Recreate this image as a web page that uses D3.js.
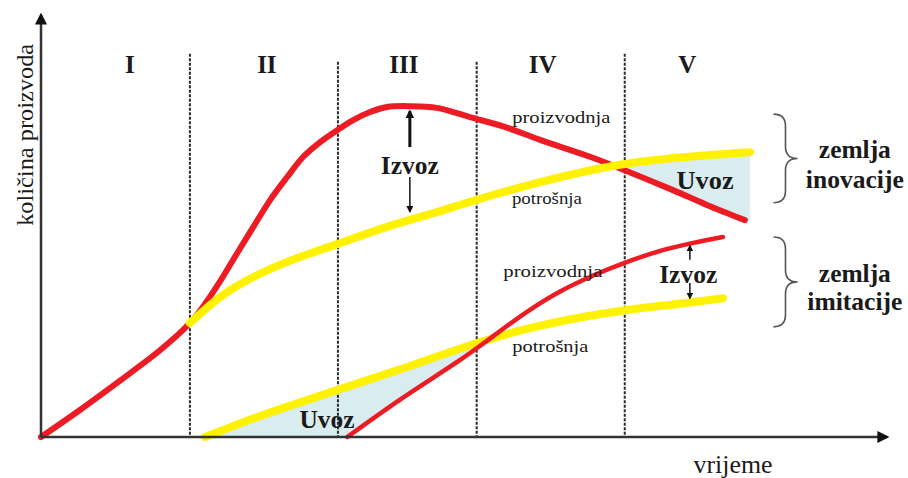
<!DOCTYPE html>
<html>
<head>
<meta charset="utf-8">
<script src="https://cdn.jsdelivr.net/npm/d3@7"></script>
<style>
  body { margin: 0; background: #fff; }
  svg { display: block; }
  text { font-family: "Liberation Serif", "Times New Roman", serif; fill: #1a1a1a; }
</style>
</head>
<body>
<script>
const width = 908
const height = 478

// x = time (0..100), y = quantity (0..100)
const phaseBounds = [17.6, 35.1, 51.5, 69.0]
const phaseTops = [90.8, 88.9, 88.9, 90.8]
const phaseNames = ['I', 'II', 'III', 'IV', 'V']
const phaseLabelT = [10.5, 26.7, 42.9, 59.3, 76.4]

// zemlja inovacije
const prodInov = [[0, 0], [4.6, 6.4], [9.3, 13.3], [14.1, 20.6], [17.6, 27.0], [19.3, 31.3],
  [21.2, 37.0], [23.2, 43.6], [25.1, 49.8], [27.1, 56.2], [29.1, 61.6], [31.0, 66.4],
  [33.0, 69.9], [35.0, 72.7], [36.9, 75.1], [38.9, 77.0], [40.9, 78.2], [43.6, 78.4],
  [46.8, 78.0], [50.7, 75.8], [54.8, 73.5], [59.0, 70.4], [64.9, 66.4], [68.4, 63.7],
  [74.7, 58.5], [78.7, 55.0], [83.2, 51.4]]
const consInov = [[17.6, 27.0], [21.2, 33.2], [25.1, 37.9], [29.1, 41.5], [35.0, 45.7],
  [40.9, 49.8], [46.8, 53.3], [51.5, 56.2], [59.0, 60.4], [68.4, 64.5], [74.7, 66.1], [83.8, 67.5]]

// zemlja imitacije
const prodImit = [[36.2, 0], [42.4, 8.8], [49.5, 18.2], [52.5, 22.5], [57.4, 29.6], [61.3, 34.4],
  [65.2, 38.2], [69.3, 41.5], [73.2, 44.1], [77.1, 46.0], [80.6, 47.4]]
const consImit = [[19.4, 0], [25.5, 4.7], [35.0, 11.1], [43.3, 16.6], [51.9, 22.5], [57.4, 25.6],
  [63.4, 28.2], [69.3, 30.1], [75.2, 31.5], [80.6, 32.9]]

const x = d3.scaleLinear().domain([0, 100]).range([41, 887])
const y = d3.scaleLinear().domain([0, 100]).range([437, 15])

const red = '#ed1c24'
const yellow = '#fff200'
const fillBlue = '#d9ecef'

const svg = d3.select('body').append('svg')
  .attr('width', width)
  .attr('height', height)

const defs = svg.append('defs')
function arrowMarker(id, size) {
  defs.append('marker')
    .attr('id', id)
    .attr('viewBox', '0 0 10 10')
    .attr('refX', 8).attr('refY', 5)
    .attr('markerUnits', 'userSpaceOnUse')
    .attr('markerWidth', size).attr('markerHeight', size)
    .attr('orient', 'auto')
    .append('path')
    .attr('d', 'M0,0 L10,5 L0,10 Z')
    .attr('fill', '#111')
}
arrowMarker('axisHead', 12)
arrowMarker('head', 9)
arrowMarker('headSmall', 7)

const line = d3.line()
  .x(d => x(d[0]))
  .y(d => y(d[1]))
  .curve(d3.curveCatmullRom.alpha(0.5))

// sample a drawn path so fills follow the same curve
function sampler(node) {
  const len = node.getTotalLength(), pts = []
  for (let l = 0; l <= len; l += 1) {
    const p = node.getPointAtLength(l)
    pts.push([p.x, p.y])
  }
  pts.sort((a, b) => a[0] - b[0])
  const bis = d3.bisector(d => d[0]).left
  return function(px) {
    let i = bis(pts, px)
    if (i <= 0) return pts[0][1]
    if (i >= pts.length) return pts[pts.length - 1][1]
    const a = pts[i - 1], b = pts[i]
    const k = b[0] === a[0] ? 0 : (px - a[0]) / (b[0] - a[0])
    return a[1] + k * (b[1] - a[1])
  }
}

const fillLayer = svg.append('g').attr('id', 'fills')
const gridLayer = svg.append('g').attr('id', 'phases')
const lineLayer = svg.append('g').attr('id', 'lines')

// phase dividers
gridLayer.selectAll('line')
  .data(phaseBounds)
  .enter().append('line')
  .attr('x1', d => x(d)).attr('x2', d => x(d))
  .attr('y1', (d, i) => y(phaseTops[i]))
  .attr('y2', y(0))
  .attr('stroke', '#2a2a2a')
  .attr('stroke-width', 2)
  .attr('stroke-dasharray', '3,1.5')

gridLayer.selectAll('text')
  .data(phaseNames)
  .enter().append('text')
  .attr('x', (d, i) => x(phaseLabelT[i]))
  .attr('y', y(86.2))
  .attr('text-anchor', 'middle')
  .attr('font-size', 25)
  .attr('font-weight', 'bold')
  .text(d => d)

// curves
const pProdInov = lineLayer.append('path').datum(prodInov)
  .attr('d', line).attr('fill', 'none')
  .attr('stroke', red).attr('stroke-width', 6).attr('stroke-linecap', 'round')
const pConsInov = lineLayer.append('path').datum(consInov)
  .attr('d', line).attr('fill', 'none')
  .attr('stroke', yellow).attr('stroke-width', 8).attr('stroke-linecap', 'round')
const pConsImit = lineLayer.append('path').datum(consImit)
  .attr('d', line).attr('fill', 'none')
  .attr('stroke', yellow).attr('stroke-width', 8).attr('stroke-linecap', 'round')
const pProdImit = lineLayer.append('path').datum(prodImit)
  .attr('d', line).attr('fill', 'none')
  .attr('stroke', red).attr('stroke-width', 4.5).attr('stroke-linecap', 'round')

// Uvoz areas
const rI = sampler(pProdInov.node()), yI = sampler(pConsInov.node())
const upper = []
for (let px = x(60); px <= x(prodInov[prodInov.length - 1][0]); px += 1) {
  if (rI(px) > yI(px)) upper.push([px, yI(px), rI(px)])
}
upper.push([x(consInov[consInov.length - 1][0]), yI(x(83.8)), rI(x(83.2))])

const rM = sampler(pProdImit.node()), yM = sampler(pConsImit.node())
const lower = []
for (let px = x(consImit[0][0]); px <= x(60); px += 1) {
  const bottom = px < x(prodImit[0][0]) ? y(0) : rM(px)
  if (bottom > yM(px)) lower.push([px, yM(px), bottom])
  else break
}

const area = d3.area().x(d => d[0]).y0(d => d[2]).y1(d => d[1])
fillLayer.append('path').datum(upper).attr('d', area).attr('fill', fillBlue)
fillLayer.append('path').datum(lower).attr('d', area).attr('fill', fillBlue)

// axes
const axes = svg.append('g').attr('id', 'axes')
axes.append('line')
  .attr('x1', x(0)).attr('y1', y(0)).attr('x2', x(0)).attr('y2', y(100))
  .attr('stroke', '#333').attr('stroke-width', 2.5)
  .attr('marker-end', 'url(#axisHead)')
axes.append('line')
  .attr('x1', x(0)).attr('y1', y(0)).attr('x2', x(100)).attr('y2', y(0))
  .attr('stroke', '#333').attr('stroke-width', 2.5)
  .attr('marker-end', 'url(#axisHead)')

axes.append('text')
  .attr('transform', `translate(33,${y(71.6)}) rotate(-90)`)
  .attr('text-anchor', 'middle')
  .attr('font-size', 24)
  .attr('textLength', 182).attr('lengthAdjust', 'spacingAndGlyphs')
  .text('količina proizvoda')

axes.append('text')
  .attr('x', x(81.8)).attr('y', 473)
  .attr('text-anchor', 'middle')
  .attr('font-size', 25)
  .attr('textLength', 79).attr('lengthAdjust', 'spacingAndGlyphs')
  .text('vrijeme')

// Izvoz arrows
const notes = svg.append('g').attr('id', 'notes')
const arrows = [
  { t: 43.6, from: 68.7, to: 77.2, w: 3, head: 'head' },
  { t: 43.6, from: 61.6, to: 53.4, w: 1.5, head: 'headSmall' },
  { t: 76.7, from: 42.0, to: 45.3, w: 1.5, head: 'headSmall' },
  { t: 76.7, from: 36.5, to: 32.9, w: 1.5, head: 'headSmall' }
]
notes.selectAll('line.arrow')
  .data(arrows)
  .enter().append('line')
  .attr('class', 'arrow')
  .attr('x1', d => x(d.t)).attr('x2', d => x(d.t))
  .attr('y1', d => y(d.from)).attr('y2', d => y(d.to))
  .attr('stroke', '#111')
  .attr('stroke-width', d => d.w)
  .attr('marker-end', d => `url(#${d.head})`)

const labels = [
  { text: 'Izvoz', t: 43.6, v: 62.3, size: 25, bold: true, len: 58 },
  { text: 'Izvoz', t: 76.5, v: 36.5, size: 25, bold: true, len: 58 },
  { text: 'Uvoz', t: 78.5, v: 58.8, size: 25, bold: true, len: 57 },
  { text: 'Uvoz', t: 33.8, v: 2.1, size: 25, bold: true, len: 55 },
  { text: 'proizvodnja', t: 61.5, v: 74.4, size: 16, bold: false, len: 98 },
  { text: 'potrošnja', t: 59.8, v: 55.2, size: 16, bold: false, len: 70 },
  { text: 'proizvodnja', t: 60.5, v: 37.9, size: 16, bold: false, len: 99 },
  { text: 'potrošnja', t: 60.2, v: 20.1, size: 16, bold: false, len: 76 },
  { text: 'zemlja', t: 96.2, v: 66.1, size: 25, bold: true, len: 72 },
  { text: 'inovacije', t: 96.2, v: 59.0, size: 25, bold: true, len: 98 },
  { text: 'zemlja', t: 96.2, v: 36.7, size: 25, bold: true, len: 72 },
  { text: 'imitacije', t: 96.2, v: 30.1, size: 25, bold: true, len: 95 }
]
notes.selectAll('text.label')
  .data(labels)
  .enter().append('text')
  .attr('class', 'label')
  .attr('x', d => x(d.t)).attr('y', d => y(d.v))
  .attr('text-anchor', 'middle')
  .attr('font-size', d => d.size)
  .attr('font-weight', d => d.bold ? 'bold' : 'normal')
  .attr('textLength', d => d.len).attr('lengthAdjust', 'spacingAndGlyphs')
  .text(d => d.text)

// braces
const braces = [
  { t: 88.0, top: 76.5, bottom: 55.5 },
  { t: 88.0, top: 47.4, bottom: 26.1 }
]
function bracePath(d) {
  const bx = x(d.t), t = y(d.top), b = y(d.bottom), m = (t + b) / 2, w = 12, r = 12
  return `M${bx - w},${t} Q${bx},${t} ${bx},${t + r} L${bx},${m - r} Q${bx},${m} ${bx + w},${m}` +
    ` Q${bx},${m} ${bx},${m + r} L${bx},${b - r} Q${bx},${b} ${bx - w},${b}`
}
notes.selectAll('path.brace')
  .data(braces)
  .enter().append('path')
  .attr('class', 'brace')
  .attr('d', bracePath)
  .attr('fill', 'none')
  .attr('stroke', '#555')
  .attr('stroke-width', 1.6)
</script>
</body>
</html>
